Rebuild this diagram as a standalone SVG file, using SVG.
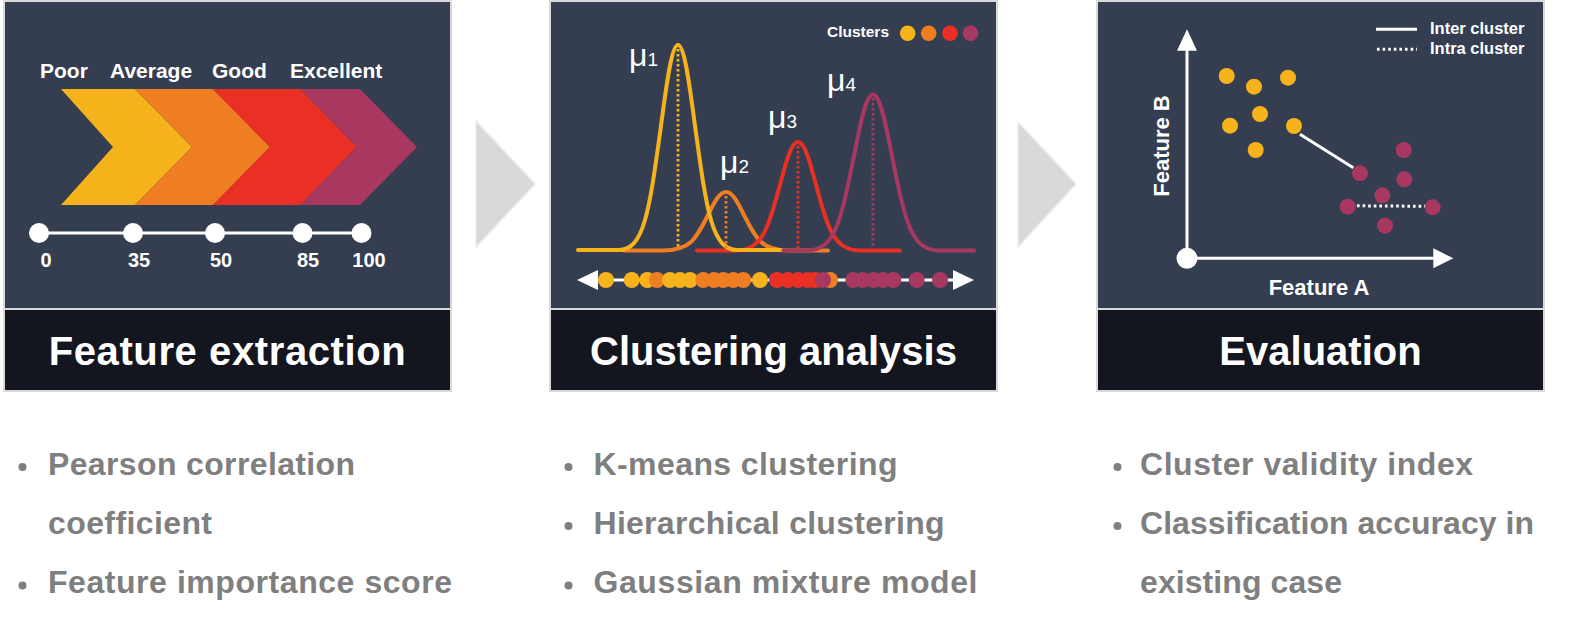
<svg xmlns="http://www.w3.org/2000/svg" width="1583" height="626" viewBox="0 0 1583 626">
<defs>
<style>
.frame{fill:#d9d9d9}
.top{fill:#343e50}
.bar{fill:#13161e}
.title{font-family:"Liberation Sans",Arial,sans-serif;font-weight:bold;font-size:40px;fill:#ffffff;text-anchor:middle}
.lbl{font-family:"Liberation Sans",Arial,sans-serif;font-weight:bold;fill:#ffffff}
.mu{font-family:"Liberation Sans",Arial,sans-serif;fill:#ffffff}
.bul{font-family:"Liberation Sans",Arial,sans-serif;font-weight:bold;font-size:32px;fill:#7f7f7f}
.dotg{fill:#7f7f7f}
.wl{stroke:#ffffff;stroke-width:3;fill:none}
.curve{fill:none;stroke-width:4;stroke-linecap:round;stroke-linejoin:round}
.vdash{fill:none;stroke-width:2.8;stroke-dasharray:2.5 2.5}
.y{fill:#f6b31b}.o{fill:#ef7d22}.r{fill:#ea3024}.p{fill:#a8385f}
.sy{stroke:#f6b31b}.so{stroke:#ef7d22}.sr{stroke:#ea3024}.sp{stroke:#a8385f}
.tri{fill:#d9d9d9;stroke:#ececec;stroke-width:1.5}
</style>
</defs>
<rect width="1583" height="626" fill="#ffffff"/>

<g id="connectors">
<polygon class="tri" points="476,121 535,184 476,247"/>
<polygon class="tri" points="1018,122 1076,184 1018,247"/>
</g>

<g id="panel-feature-extraction">
<rect class="frame" x="3" y="0" width="449" height="392"/>
<rect class="top" x="5" y="2" width="445" height="306"/>
<rect class="bar" x="5" y="310" width="445" height="80"/>
<polygon class="y" points="61,89 135,89 192,147 135,205 61,205 113,147"/>
<polygon class="o" points="135,89 213,89 270,147 213,205 135,205 192,147"/>
<polygon class="r" points="213,89 300,89 357,147 300,205 213,205 270,147"/>
<polygon class="p" points="300,89 360,89 417,147 360,205 300,205 357,147"/>
<g class="lbl" font-size="21">
<text x="40" y="78">Poor</text>
<text x="110" y="78">Average</text>
<text x="212" y="78">Good</text>
<text x="290" y="78">Excellent</text>
</g>
<line class="wl" x1="39" y1="233" x2="362" y2="233"/>
<g fill="#ffffff">
<circle cx="39" cy="233" r="10"/>
<circle cx="133" cy="233" r="10"/>
<circle cx="215" cy="233" r="10"/>
<circle cx="302.5" cy="233" r="10"/>
<circle cx="361.5" cy="233" r="10"/>
</g>
<g class="lbl" font-size="20" text-anchor="middle">
<text x="46" y="267">0</text>
<text x="139" y="267">35</text>
<text x="221" y="267">50</text>
<text x="308" y="267">85</text>
<text x="369" y="267">100</text>
</g>
<text class="title" x="227.5" y="365" font-size="41" letter-spacing="0.6">Feature extraction</text>
</g>

<g id="panel-clustering-analysis">
<rect class="frame" x="549" y="0" width="449" height="392"/>
<rect class="top" x="551" y="2" width="445" height="306"/>
<rect class="bar" x="551" y="310" width="445" height="80"/>
<text class="lbl" x="827" y="37" font-size="15.5">Clusters</text>
<circle class="y" cx="907.7" cy="33.3" r="7.8"/>
<circle class="o" cx="928.7" cy="33.3" r="7.8"/>
<circle class="r" cx="950" cy="33.3" r="7.8"/>
<circle class="p" cx="970.5" cy="33.3" r="7.8"/>
<path class="curve so" d="M624,250.5 L663,250.5 C690,250.5 695.4,239.9 708,215 C713.4,204.4 718.8,192 726,192 C733.2,192 738.6,204.4 744,215 C756.6,239.9 762,250.5 789,250.5 L828,250.5"/>
<path class="curve sr" d="M697,250.5 L735,250.5 C762,250.5 767.4,230.8 780,184.7 C785.4,164.9 790.8,142 798,142 C805.2,142 810.6,164.9 816,184.7 C828.6,230.8 834,250.5 861,250.5 L900,250.5"/>
<path class="curve sp" d="M783,250.5 L806.5,250.5 C835,250.5 840.7,222.1 854,155.9 C859.7,127.5 865.4,94.5 873,94.5 C880.6,94.5 886.3,127.5 892,155.9 C905.3,222.1 911,250.5 939.5,250.5 L974,250.5"/>
<path class="curve sy" d="M578,250 L618.5,250 C644,250 649.1,212.7 661,125.7 C666.1,88.4 671.2,45 678,45 C684.8,45 689.9,88.4 695,125.7 C706.9,212.7 712,250 737.5,250 L780,250"/>
<line class="vdash sy" x1="678" y1="49" x2="678" y2="248"/>
<line class="vdash so" x1="726" y1="196" x2="726" y2="248"/>
<line class="vdash sr" x1="798" y1="146" x2="798" y2="248"/>
<line class="vdash sp" x1="873" y1="98" x2="873" y2="248"/>
<text class="mu" x="629" y="66"><tspan font-size="32">μ</tspan><tspan font-size="19">1</tspan></text>
<text class="mu" x="720" y="173"><tspan font-size="32">μ</tspan><tspan font-size="19">2</tspan></text>
<text class="mu" x="768" y="128"><tspan font-size="32">μ</tspan><tspan font-size="19">3</tspan></text>
<text class="mu" x="827" y="91"><tspan font-size="32">μ</tspan><tspan font-size="19">4</tspan></text>
<line class="wl" x1="596" y1="280" x2="955" y2="280"/>
<polygon fill="#ffffff" points="577,280 598,270 598,290"/>
<polygon fill="#ffffff" points="974,280 953,270 953,290"/>
<g>
<circle class="y" cx="606" cy="280" r="8"/>
<circle class="y" cx="631.7" cy="280" r="8"/>
<circle class="y" cx="647.3" cy="280" r="8"/>
<circle class="o" cx="657" cy="280" r="8"/>
<circle class="y" cx="670" cy="280" r="8"/>
<circle class="y" cx="680" cy="280" r="8"/>
<circle class="y" cx="690" cy="280" r="8"/>
<circle class="o" cx="703.3" cy="280" r="8"/>
<circle class="o" cx="714" cy="280" r="8"/>
<circle class="o" cx="723.3" cy="280" r="8"/>
<circle class="o" cx="733.3" cy="280" r="8"/>
<circle class="o" cx="743.3" cy="280" r="8"/>
<circle class="y" cx="760" cy="280" r="8"/>
<circle class="r" cx="777" cy="280" r="8"/>
<circle class="r" cx="788" cy="280" r="8"/>
<circle class="r" cx="798" cy="280" r="8"/>
<circle class="r" cx="808" cy="280" r="8"/>
<circle class="r" cx="815" cy="280" r="8"/>
<circle class="o" cx="830" cy="280" r="8"/>
<circle class="p" cx="823" cy="280" r="8"/>
<circle class="p" cx="853.3" cy="280" r="8"/>
<circle class="p" cx="863.3" cy="280" r="8"/>
<circle class="p" cx="873.3" cy="280" r="8"/>
<circle class="p" cx="883.3" cy="280" r="8"/>
<circle class="p" cx="893.3" cy="280" r="8"/>
<circle class="p" cx="916.7" cy="280" r="8"/>
<circle class="p" cx="940" cy="280" r="8"/>
</g>
<text class="title" x="773.5" y="365">Clustering analysis</text>
</g>

<g id="panel-evaluation">
<rect class="frame" x="1096" y="0" width="449" height="392"/>
<rect class="top" x="1098" y="2" width="445" height="306"/>
<rect class="bar" x="1098" y="310" width="445" height="80"/>
<line class="wl" x1="1376" y1="29.3" x2="1417" y2="29.3"/>
<line class="wl" x1="1377" y1="49.3" x2="1417" y2="49.3" stroke-dasharray="2.6 3"/>
<text class="lbl" x="1430" y="34.3" font-size="16.5">Inter cluster</text>
<text class="lbl" x="1430" y="54.3" font-size="16.5">Intra cluster</text>
<line class="wl" x1="1187" y1="258.3" x2="1187" y2="48"/>
<polygon fill="#ffffff" points="1187,29.3 1197,50.7 1177,50.7"/>
<line class="wl" x1="1187" y1="258.3" x2="1436" y2="258.3"/>
<polygon fill="#ffffff" points="1453.3,258.3 1433.3,248.3 1433.3,268.3"/>
<circle fill="#ffffff" cx="1187" cy="258.3" r="10.5"/>
<text class="lbl" x="1319" y="295" font-size="22" text-anchor="middle">Feature A</text>
<text class="lbl" x="1169" y="146" font-size="22" text-anchor="middle" transform="rotate(-90 1169 146)">Feature B</text>
<line class="wl" x1="1300" y1="134.3" x2="1353.3" y2="167.7"/>
<line class="wl" x1="1357" y1="205.8" x2="1426" y2="206.3" stroke-dasharray="2.6 3"/>
<g class="y">
<circle cx="1226.7" cy="76" r="8"/>
<circle cx="1254" cy="86.7" r="8"/>
<circle cx="1288" cy="77.7" r="8"/>
<circle cx="1260" cy="114" r="8"/>
<circle cx="1230" cy="125.7" r="8"/>
<circle cx="1294" cy="126" r="8"/>
<circle cx="1255.7" cy="150" r="8"/>
</g>
<g class="p">
<circle cx="1403.7" cy="150" r="8"/>
<circle cx="1360" cy="173.3" r="8"/>
<circle cx="1404.3" cy="179.3" r="8"/>
<circle cx="1382.3" cy="195.3" r="8"/>
<circle cx="1347.7" cy="206.7" r="8"/>
<circle cx="1432.7" cy="207.3" r="8"/>
<circle cx="1385" cy="225.7" r="8"/>
</g>
<text class="title" x="1320.5" y="365">Evaluation</text>
</g>

<g id="list-feature-extraction">
<circle class="dotg" cx="22.5" cy="467" r="4"/>
<circle class="dotg" cx="22.5" cy="585.5" r="4"/>
<text class="bul" x="48" y="475" textLength="307" lengthAdjust="spacing">Pearson correlation</text>
<text class="bul" x="48" y="534" textLength="164" lengthAdjust="spacing">coefficient</text>
<text class="bul" x="48" y="593" textLength="404" lengthAdjust="spacing">Feature importance score</text>
</g>
<g id="list-clustering-analysis">
<circle class="dotg" cx="568.5" cy="467" r="4"/>
<circle class="dotg" cx="568.5" cy="526" r="4"/>
<circle class="dotg" cx="568.5" cy="585.5" r="4"/>
<text class="bul" x="593.5" y="475" textLength="304" lengthAdjust="spacing">K-means clustering</text>
<text class="bul" x="593.5" y="534" textLength="351" lengthAdjust="spacing">Hierarchical clustering</text>
<text class="bul" x="593.5" y="593" textLength="384" lengthAdjust="spacing">Gaussian mixture model</text>
</g>
<g id="list-evaluation">
<circle class="dotg" cx="1117.5" cy="467" r="4"/>
<circle class="dotg" cx="1117.5" cy="526" r="4"/>
<text class="bul" x="1140" y="475" textLength="333" lengthAdjust="spacing">Cluster validity index</text>
<text class="bul" x="1140" y="534" textLength="394" lengthAdjust="spacing">Classification accuracy in</text>
<text class="bul" x="1140" y="593" textLength="202" lengthAdjust="spacing">existing case</text>
</g>
</svg>
